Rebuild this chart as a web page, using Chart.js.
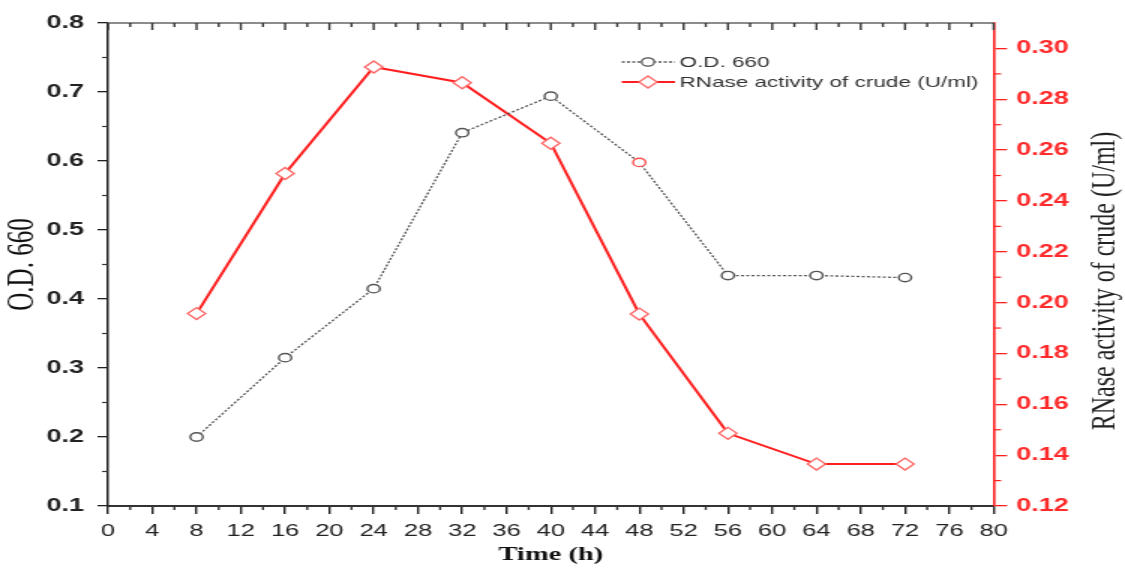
<!DOCTYPE html>
<html>
<head>
<meta charset="utf-8">
<script src="https://cdn.jsdelivr.net/npm/chart.js@4.4.1/dist/chart.umd.min.js"></script>
<style>
  html, body { margin: 0; padding: 0; background: #fff; overflow: hidden; }
  /* the original figure is stretched sideways, so draw narrow and widen it */
  #wrap { width: 750px; height: 568px; transform: scaleX(1.5); transform-origin: 0 0; }
</style>
</head>
<body>
<div id="wrap"><canvas id="chartCanvas"></canvas></div>
<script>
const hours = [8, 16, 24, 32, 40, 48, 56, 64, 72];
const od660 = [0.200, 0.315, 0.415, 0.641, 0.694, 0.598, 0.434, 0.434, 0.431];
const rnase = [0.1957, 0.2508, 0.2927, 0.2865, 0.2627, 0.1955, 0.1486, 0.1365, 0.1365];

const xTicks = [0, 4, 8, 12, 16, 20, 24, 28, 32, 36, 40, 44, 48, 52, 56, 60, 64, 68, 72, 76, 80];
const xMinor = [2, 6, 10, 14, 18, 22, 26, 30, 34, 38, 42, 46, 50, 54, 58, 62, 66, 70, 74, 78];
const leftTicks = [0.1, 0.2, 0.3, 0.4, 0.5, 0.6, 0.7, 0.8];
const leftMinor = [0.15, 0.25, 0.35, 0.45, 0.55, 0.65, 0.75];
const rightTicks = [0.12, 0.14, 0.16, 0.18, 0.20, 0.22, 0.24, 0.26, 0.28, 0.30];
const rightMinor = [0.13, 0.15, 0.17, 0.19, 0.21, 0.23, 0.25, 0.27, 0.29];

const SANS = '"Liberation Sans", Arial, sans-serif';
const SERIF = '"Liberation Serif", "Times New Roman", serif';
const GRAY = "#555";
const RED = "#ff1f1f";
const RED_MARK = "#ff6666";

function line(ctx, x1, y1, x2, y2) {
  ctx.beginPath();
  ctx.moveTo(x1, y1);
  ctx.lineTo(x2, y2);
  ctx.stroke();
}

// minor ticks, top frame, right title and legend
const frame = {
  id: "frame",
  afterDraw(chart) {
    const { ctx, chartArea: a } = chart;
    const x = chart.scales.x, yL = chart.scales.yL, yR = chart.scales.yR;
    ctx.save();

    ctx.strokeStyle = "#8c8c8c";
    ctx.lineWidth = 2;
    line(ctx, a.left, a.top, a.right, a.top);
    ctx.lineWidth = 1.4;
    ctx.strokeStyle = "#333";
    xTicks.forEach(v => { const p = x.getPixelForValue(v); line(ctx, p, a.top, p, a.top + 7); });
    xMinor.forEach(v => { const p = x.getPixelForValue(v); line(ctx, p, a.top, p, a.top + 4); });
    xMinor.forEach(v => { const p = x.getPixelForValue(v); line(ctx, p, a.bottom, p, a.bottom + 4); });

    ctx.lineWidth = 1.2;
    ctx.strokeStyle = "#333";
    leftMinor.forEach(v => { const p = yL.getPixelForValue(v); line(ctx, a.left - 4, p, a.left, p); });
    ctx.strokeStyle = RED;
    rightMinor.forEach(v => { const p = yR.getPixelForValue(v); line(ctx, a.right, p, a.right + 5, p); });

    // right axis title, reading upwards
    ctx.save();
    ctx.translate(737, 281);
    ctx.rotate(-Math.PI / 2);
    ctx.fillStyle = "#222";
    ctx.font = "24px " + SERIF;
    ctx.textAlign = "center";
    ctx.textBaseline = "middle";
    ctx.fillText("RNase activity of crude (U/ml)", 0, 0);
    ctx.restore();

    // legend
    const items = chart.data.datasets;
    items.forEach((ds, i) => {
      const ly = 62 + i * 20;
      ctx.strokeStyle = ds.borderColor;
      ctx.lineWidth = ds.borderWidth;
      ctx.setLineDash(ds.borderDash || []);
      line(ctx, 414.5, ly, 450, ly);
      ctx.setLineDash([]);
      ctx.fillStyle = "#fff";
      ctx.strokeStyle = i === 0 ? GRAY : RED_MARK;
      ctx.lineWidth = 1.3;
      ctx.beginPath();
      if (ds.pointStyle === "rectRot") {
        const r = 6;
        ctx.moveTo(432, ly - r); ctx.lineTo(432 + r, ly); ctx.lineTo(432, ly + r); ctx.lineTo(432 - r, ly); ctx.closePath();
      } else {
        ctx.arc(432, ly, 4.2, 0, Math.PI * 2);
      }
      ctx.fill();
      ctx.stroke();
      ctx.fillStyle = "#333";
      ctx.font = "15px " + SANS;
      ctx.textAlign = "left";
      ctx.textBaseline = "middle";
      ctx.fillText(ds.label, 453, ly + 1);
    });

    ctx.restore();
  }
};

const ctx = document.getElementById("chartCanvas").getContext("2d");

new Chart(ctx, {
  type: "line",
  data: {
    labels: hours,
    datasets: [
      {
        label: "O.D. 660",
        data: hours.map((h, i) => ({ x: h, y: od660[i] })),
        yAxisID: "yL",
        borderColor: GRAY,
        borderWidth: 1.3,
        borderDash: [2, 1.5],
        pointStyle: "circle",
        pointRadius: 4.2,
        pointBorderWidth: 1.4,
        pointBackgroundColor: "#fff",
        pointBorderColor: c => (c.dataIndex === 5 ? "#ff5050" : GRAY),
        tension: 0
      },
      {
        label: "RNase activity of crude (U/ml)",
        data: hours.map((h, i) => ({ x: h, y: rnase[i] })),
        yAxisID: "yR",
        borderColor: RED,
        borderWidth: 2,
        pointStyle: "rectRot",
        pointRadius: 6,
        pointBorderWidth: 1.3,
        pointBackgroundColor: "#fff",
        pointBorderColor: RED_MARK,
        tension: 0
      }
    ]
  },
  options: {
    responsive: true,
    maintainAspectRatio: false,
    animation: false,
    layout: { padding: { top: 23, left: 0, right: 0, bottom: 0 } },
    plugins: {
      legend: { display: false },
      tooltip: { enabled: false }
    },
    scales: {
      x: {
        type: "linear",
        min: 0,
        max: 80,
        afterBuildTicks: s => { s.ticks = xTicks.map(v => ({ value: v })); },
        afterFit: s => { s.height = 62; },
        grid: { drawOnChartArea: false, drawTicks: true, tickLength: 8, tickColor: "#222", lineWidth: 1.4 },
        border: { color: "#333", width: 2 },
        ticks: { color: "#222", font: { family: SANS, size: 17 }, padding: 7, maxRotation: 0, autoSkip: false },
        title: {
          display: true,
          text: "Time (h)",
          color: "#111",
          font: { family: SERIF, size: 19, weight: "bold" },
          padding: { top: 0, bottom: 2 }
        }
      },
      yL: {
        type: "linear",
        position: "left",
        min: 0.1,
        max: 0.8,
        afterBuildTicks: s => { s.ticks = leftTicks.map(v => ({ value: v })); },
        afterFit: s => { s.width = 72; },
        grid: { drawOnChartArea: false, drawTicks: true, tickLength: 7, tickColor: "#222", lineWidth: 1.3 },
        border: { color: "#222", width: 1.5 },
        ticks: { color: "#222", font: { family: SANS, size: 18, weight: "bold" }, padding: 9, callback: v => v.toFixed(1) },
        title: {
          display: true,
          text: "O.D. 660",
          color: "#111",
          font: { family: SERIF, size: 25 },
          padding: { top: 0, bottom: 0 }
        }
      },
      yR: {
        type: "linear",
        position: "right",
        min: 0.12,
        max: 0.31,
        afterBuildTicks: s => { s.ticks = rightTicks.map(v => ({ value: v })); },
        afterFit: s => { s.width = 87.6; },
        grid: { drawOnChartArea: false, drawTicks: true, tickLength: 9, tickColor: RED, lineWidth: 1.3 },
        border: { color: RED, width: 1.6 },
        ticks: { color: "#ff2a2a", font: { family: SANS, size: 18, weight: "bold" }, padding: 6, callback: v => v.toFixed(2) }
      }
    }
  },
  plugins: [frame]
});
</script>
</body>
</html>
